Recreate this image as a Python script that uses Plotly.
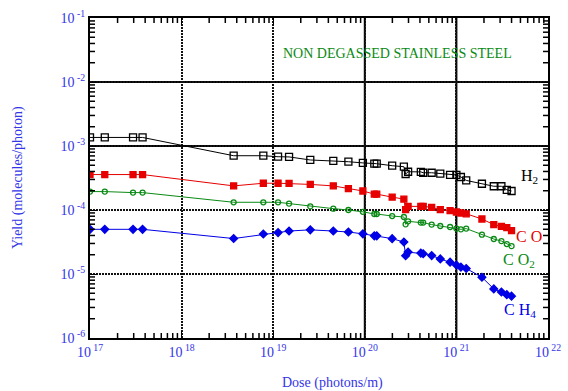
import plotly.graph_objects as go

# Dose values (photons/m) shared by all four gas species
dose = [1.0e17, 1.45e17, 2.95e17, 3.75e17, 3.70e18, 7.80e18, 1.13e19, 1.49e19,
        2.54e19, 4.53e19, 6.62e19, 9.53e19, 1.27e20, 1.35e20, 1.99e20, 2.67e20,
        2.79e20, 2.97e20, 4.09e20, 4.34e20, 5.37e20, 6.67e20, 8.53e20, 1.00e21,
        1.12e21, 1.28e21, 1.90e21, 2.56e21, 3.10e21, 3.55e21, 4.00e21]

# Photodesorption yields (molecules/photon)
h2 = [1.36e-3, 1.36e-3, 1.36e-3, 1.36e-3, 7.05e-4, 7.05e-4, 6.80e-4, 6.75e-4,
      6.05e-4, 5.85e-4, 5.68e-4, 5.44e-4, 5.29e-4, 5.29e-4, 4.92e-4, 4.75e-4,
      3.65e-4, 3.96e-4, 3.94e-4, 3.82e-4, 3.82e-4, 3.69e-4, 3.53e-4, 3.53e-4,
      3.28e-4, 2.90e-4, 2.57e-4, 2.35e-4, 2.35e-4, 2.07e-4, 1.98e-4]
co = [3.58e-4, 3.58e-4, 3.58e-4, 3.58e-4, 2.38e-4, 2.62e-4, 2.62e-4, 2.60e-4,
      2.51e-4, 2.38e-4, 2.15e-4, 1.98e-4, 1.77e-4, 1.77e-4, 1.59e-4, 1.48e-4,
      1.01e-4, 1.14e-4, 1.14e-4, 1.14e-4, 1.10e-4, 1.01e-4, 9.8e-5, 9.3e-5,
      8.98e-5, 8.73e-5, 7.23e-5, 5.91e-5, 5.56e-5, 5.31e-5, 4.77e-5]
co2 = [1.94e-4, 1.94e-4, 1.87e-4, 1.87e-4, 1.32e-4, 1.32e-4, 1.32e-4, 1.26e-4,
       1.14e-4, 1.05e-4, 1.00e-4, 9.37e-5, 8.66e-5, 8.66e-5, 8.05e-5, 7.77e-5,
       5.97e-5, 6.65e-5, 6.35e-5, 6.35e-5, 5.91e-5, 5.62e-5, 5.42e-5, 5.12e-5,
       4.99e-5, 5.12e-5, 4.12e-5, 3.52e-5, 3.27e-5, 2.94e-5, 2.73e-5]
ch4 = [4.99e-5, 4.99e-5, 4.99e-5, 4.99e-5, 3.58e-5, 4.21e-5, 4.44e-5, 4.69e-5,
       4.90e-5, 4.69e-5, 4.53e-5, 4.24e-5, 3.95e-5, 3.95e-5, 3.57e-5, 3.16e-5,
       1.93e-5, 2.20e-5, 2.12e-5, 2.07e-5, 1.94e-5, 1.72e-5, 1.53e-5, 1.38e-5,
       1.28e-5, 1.22e-5, 8.9e-6, 5.85e-6, 5.23e-6, 4.76e-6, 4.51e-6]

x_exponents = [17, 18, 19, 20, 21, 22]
y_exponents = [-6, -5, -4, -3, -2, -1]
x_ticktext = [f"10<sup> {e}</sup>" for e in x_exponents]
y_ticktext = [f"10<sup> {e}</sup>" for e in y_exponents]

FONT = "Liberation Serif"
LABEL_BLUE = "#3535e8"
RED = "#e60000"
GREEN = "#0a8a14"
BLUE = "#0000e6"

WIDTH, HEIGHT = 568, 391
MARGIN = dict(l=90, r=20, t=18, b=53)
PLOT_W = WIDTH - MARGIN["l"] - MARGIN["r"]
PLOT_H = HEIGHT - MARGIN["t"] - MARGIN["b"]

fig = go.Figure()

series = [
    ("H2", h2, "black", "square-open", 7),
    ("CO", co, RED, "square", 6),
    ("CO2", co2, GREEN, "circle-open", 5),
    ("CH4", ch4, BLUE, "diamond", 6),
]
for name, vals, color, symbol, size in series:
    fig.add_trace(go.Scatter(
        x=dose, y=vals, name=name, mode="lines+markers",
        line=dict(color=color, width=1),
        marker=dict(symbol=symbol, size=size, color=color,
                    line=dict(color=color, width=1.3)),
        showlegend=False,
    ))

axis_common = dict(
    type="log", automargin=False,
    showline=True, linecolor="black", linewidth=2, mirror="allticks",
    ticks="inside", ticklen=7, tickwidth=1, tickcolor="black",
    showgrid=True, gridcolor="#111111", gridwidth=2, griddash="2px,1px",
    zeroline=False,
    tickfont=dict(family=FONT, size=14, color=LABEL_BLUE),
)

fig.update_xaxes(range=[17, 22], tickmode="array",
                 tickvals=[10.0 ** e for e in x_exponents], ticktext=x_ticktext,
                 **axis_common)
fig.update_yaxes(range=[-6, -1], tickmode="array",
                 tickvals=[10.0 ** e for e in y_exponents], ticktext=y_ticktext,
                 **axis_common)

# Intermediate (2..9 x 10^n) tick marks on all four sides of the frame
TICK = dict(color="black", width=1.5)
tick_h = 5.0 / PLOT_H
tick_w = 5.0 / PLOT_W
for e in range(17, 22):
    for m in range(2, 10):
        v = m * 10.0 ** e
        for y0, y1 in [(0, tick_h), (1, 1 - tick_h)]:
            fig.add_shape(type="line", xref="x", yref="paper", x0=v, x1=v,
                          y0=y0, y1=y1, line=TICK, layer="above")
for e in range(-6, -1):
    for m in range(2, 10):
        v = m * 10.0 ** e
        for x0, x1 in [(0, tick_w), (1, 1 - tick_w)]:
            fig.add_shape(type="line", xref="paper", yref="y", y0=v, y1=v,
                          x0=x0, x1=x1, line=TICK, layer="above")

# Solid decade lines drawn over the dotted grid
for e in [20, 21]:
    fig.add_shape(type="line", xref="x", yref="paper", x0=10.0 ** e, x1=10.0 ** e,
                  y0=0, y1=1, line=dict(color="black", width=2), layer="below")
for e in [-3, -2]:
    fig.add_shape(type="line", xref="paper", yref="y", x0=0, x1=1,
                  y0=10.0 ** e, y1=10.0 ** e, line=dict(color="black", width=2),
                  layer="below")

annotations = [
    dict(text="NON DEGASSED STAINLESS STEEL", xref="paper", yref="paper",
         x=0.672, y=0.919, font=dict(family=FONT, size=14, color=GREEN)),
    dict(text="H<sub>2</sub>", x=21.80, y=-3.475, font=dict(family=FONT, size=16, color="black")),
    dict(text="C O", x=21.79, y=-4.41, font=dict(family=FONT, size=16, color=RED)),
    dict(text="C O<sub>2</sub>", x=21.685, y=-4.79, font=dict(family=FONT, size=16, color=GREEN)),
    dict(text="C H<sub>4</sub>", x=21.695, y=-5.565, font=dict(family=FONT, size=16, color=BLUE)),
    dict(text="Dose (photons/m)", xref="paper", yref="paper", x=0.53, y=-0.108,
         yanchor="top", font=dict(family=FONT, size=14, color=LABEL_BLUE)),
    dict(text="Yield (molecules/photon)", xref="paper", yref="paper", x=-0.157, y=0.5,
         textangle=-90, font=dict(family=FONT, size=14, color=LABEL_BLUE)),
]
for a in annotations:
    a.setdefault("showarrow", False)
    a.setdefault("xanchor", "center")
    fig.add_annotation(**a)

fig.update_layout(
    width=WIDTH, height=HEIGHT,
    margin=MARGIN,
    paper_bgcolor="white", plot_bgcolor="white",
    font=dict(family=FONT),
)

fig.write_html("out.html")
